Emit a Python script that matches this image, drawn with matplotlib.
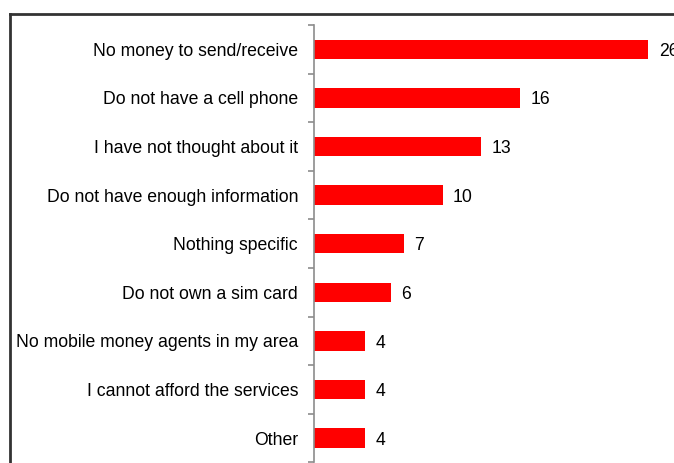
import matplotlib
matplotlib.use("Agg")
import matplotlib.pyplot as plt
from matplotlib.lines import Line2D
import numpy as np

# reasons for not using mobile money (% of respondents)
reasons = [
    "No money to send/receive",
    "Do not have a cell phone",
    "I have not thought about it",
    "Do not have enough information",
    "Nothing specific",
    "Do not own a sim card",
    "No mobile money agents in my area",
    "I cannot afford the services",
    "Other",
]
shares = [26, 16, 13, 10, 7, 6, 4, 4, 4]

plt.rcParams['font.family'] = ['Liberation Sans', 'DejaVu Sans']

W, H = 674, 463
fig = plt.figure(figsize=(W / 100, H / 100), dpi=100)

# outer frame, left and top edges only visible
fig.add_artist(Line2D([10 / W, 10 / W], [0, 1 - 14 / H], transform=fig.transFigure,
                      color="#333333", lw=2))
fig.add_artist(Line2D([10 / W, 1], [1 - 14 / H, 1 - 14 / H], transform=fig.transFigure,
                      color="#333333", lw=2))

ax_left = 314 / W
ax_top = 1 - 25 / H
ax_bottom = 1 - 462.5 / H
ax = fig.add_axes([ax_left, ax_bottom, 1 - ax_left, ax_top - ax_bottom])

y = np.arange(len(reasons))
ax.barh(y, shares, height=0.4, color="#ff0000", edgecolor="none")
ax.set_ylim(len(reasons) - 0.5, -0.5)
ax.set_xlim(0, 28.0)

for yi, v in zip(y, shares):
    ax.annotate(str(v), (v, yi), xytext=(7.5, -1.5), textcoords="offset points",
                va="center", ha="left", fontsize=12.7, color="black")

for s in ["top", "right", "bottom"]:
    ax.spines[s].set_visible(False)
ax.spines["left"].set_color("#8c8c8c")
ax.spines["left"].set_linewidth(1.2)

ax.set_xticks([])
ax.set_yticks(y)
ax.set_yticklabels(reasons, fontsize=12.7)
ax.tick_params(axis="y", which="major", length=0, pad=11.5)
ax.set_yticks(np.arange(len(reasons) + 1) - 0.5, minor=True)
ax.tick_params(axis="y", which="minor", length=4, color="#8c8c8c", width=1.2)

fig.savefig("out.png", dpi=100)
